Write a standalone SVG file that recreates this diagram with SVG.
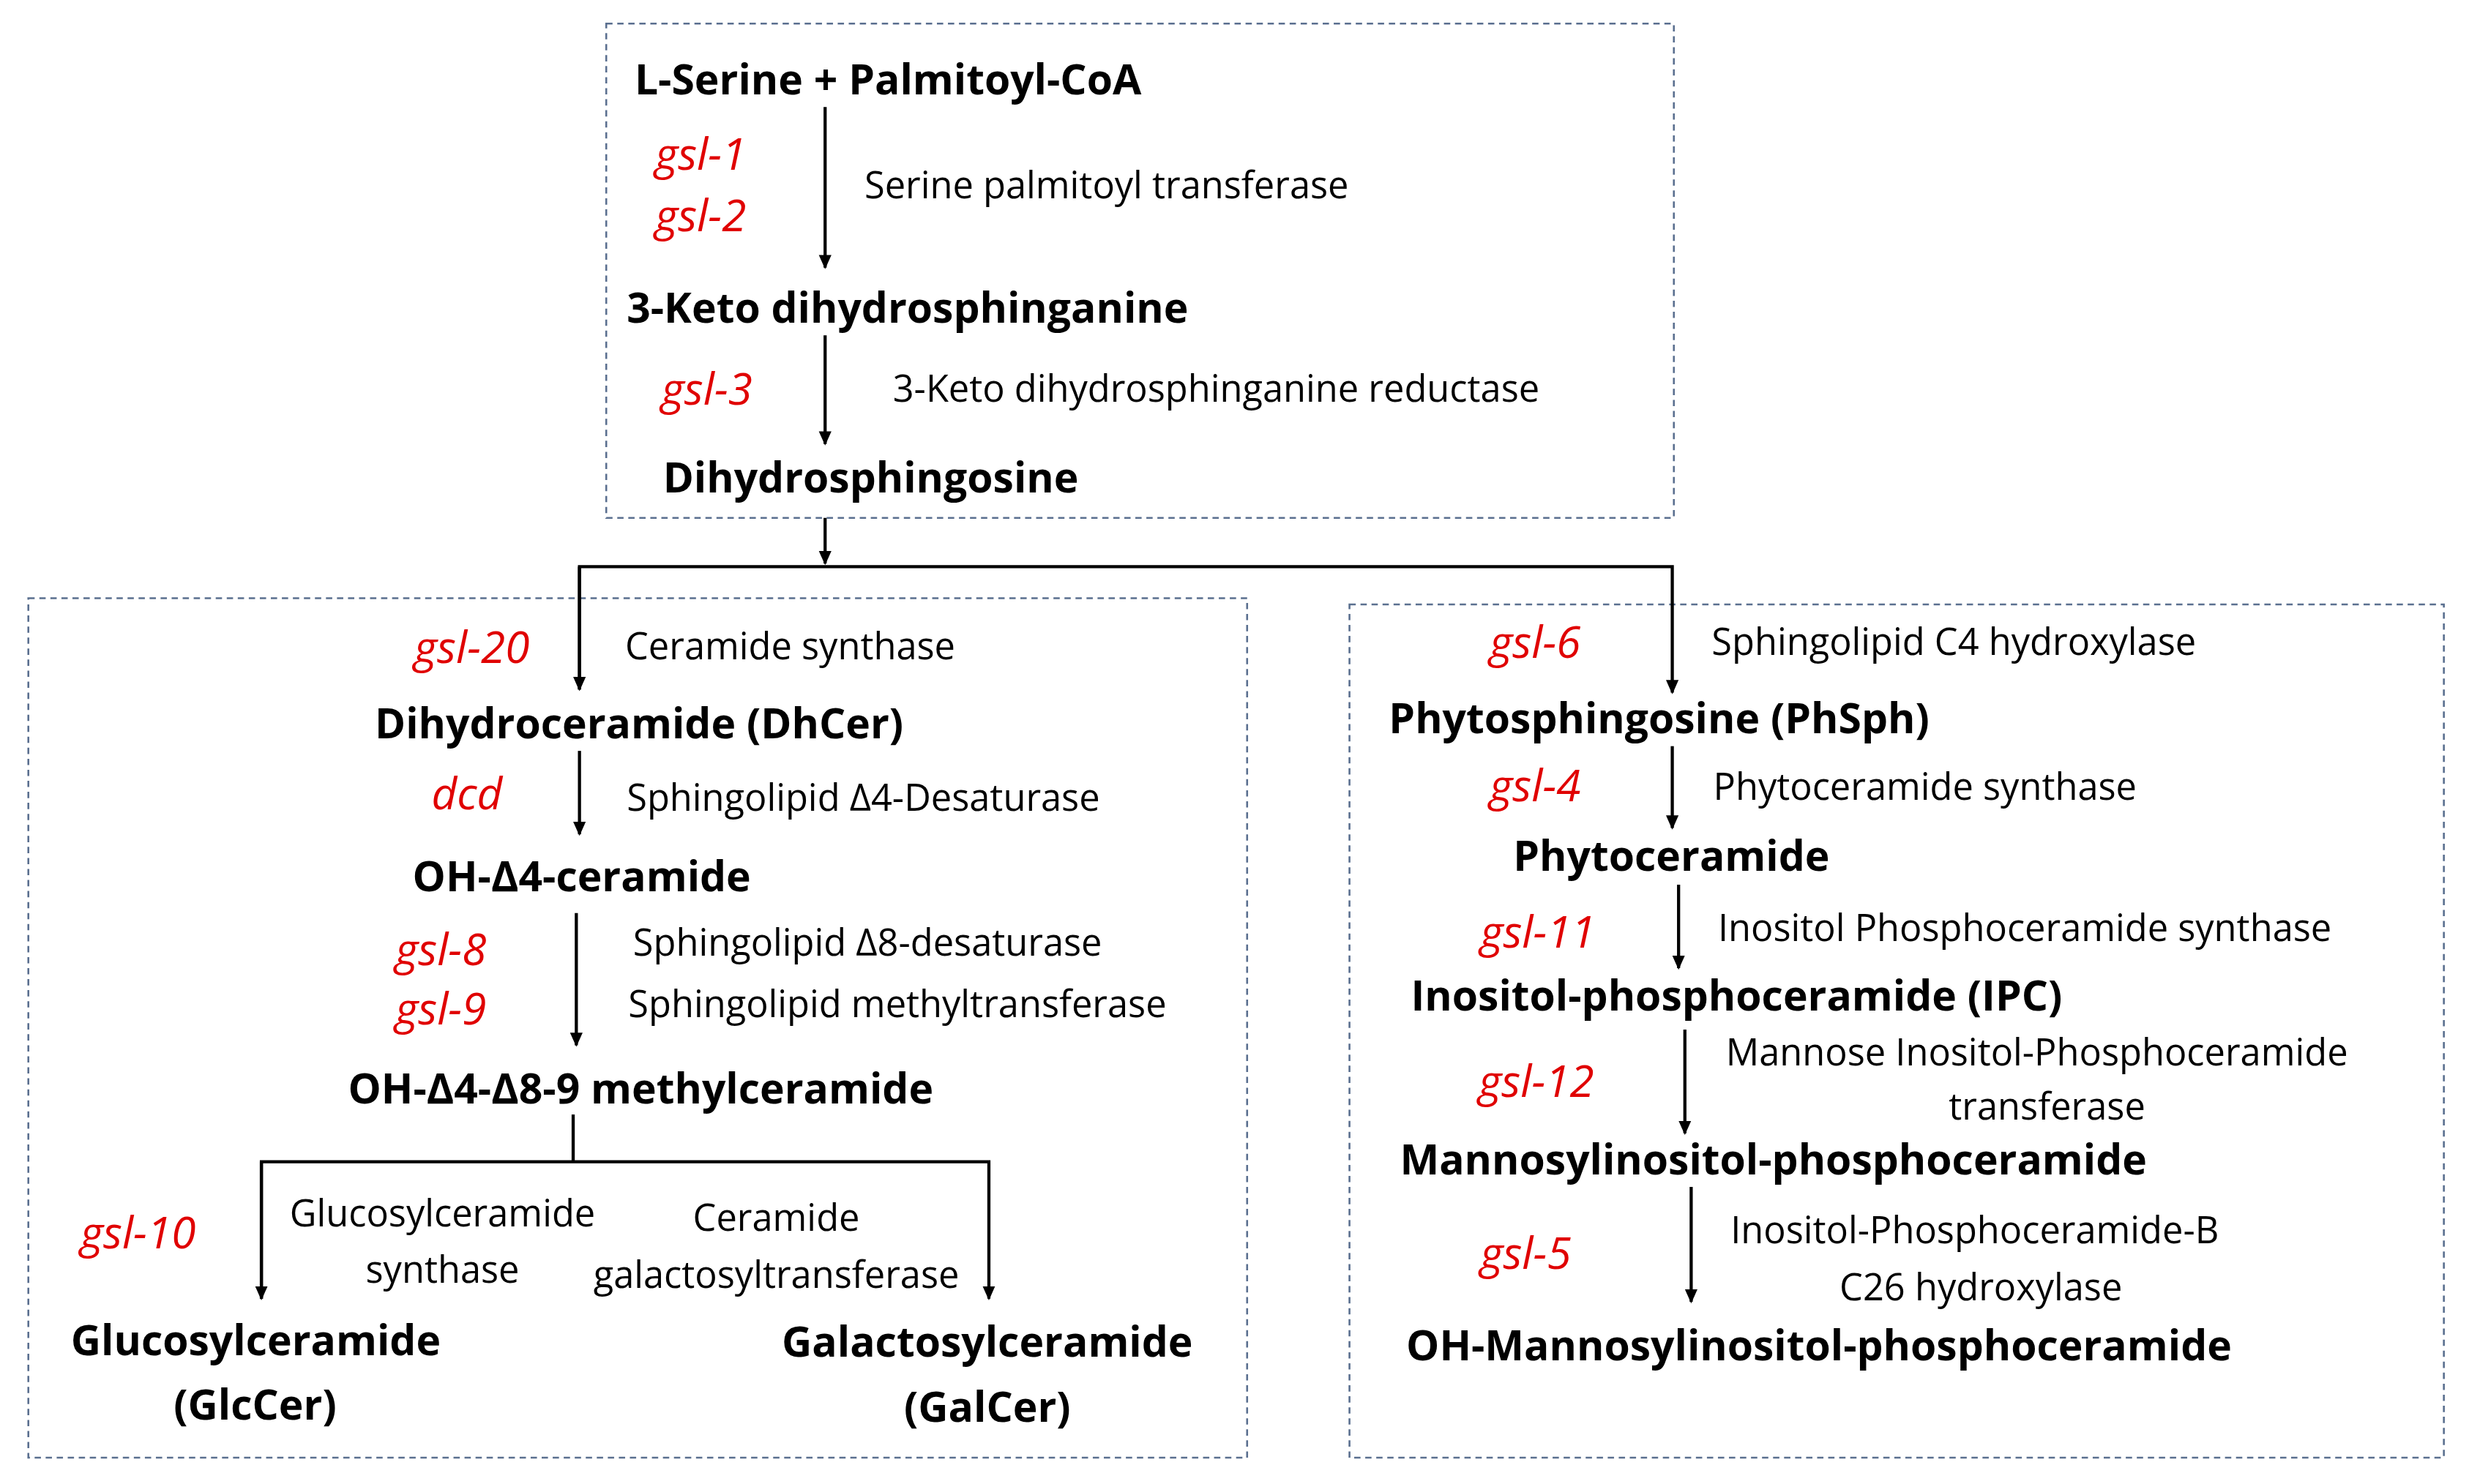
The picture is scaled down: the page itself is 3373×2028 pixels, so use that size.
<svg xmlns="http://www.w3.org/2000/svg" width="3373" height="2028" viewBox="0 0 3373 2028">
<defs>
<marker id="ah" markerWidth="10" markerHeight="10" refX="8" refY="5" orient="auto" markerUnits="userSpaceOnUse"><path d="M0,1 L9,5 L0,9 z" fill="#000"/></marker>
<style>
.box{fill:none;stroke:#5a6f8f;stroke-width:1.2;stroke-dasharray:4,3}
.b{font-family:"Open Sans","Liberation Sans",sans-serif;font-weight:bold;font-size:26.5px;fill:#000}
.n{font-family:"Open Sans","Liberation Sans",sans-serif;font-size:23.5px;fill:#000}
.g{font-family:"Open Sans","Liberation Sans",sans-serif;font-style:italic;font-size:28px;fill:#e00000}
.c{text-anchor:middle}
.l{fill:none;stroke:#000;stroke-width:2}
</style>
</defs>
<rect width="3373" height="2028" fill="#fff"/>
<g transform="scale(2.1512)">
<g id="boxes">
<rect class="box" x="385" y="15" width="678" height="314"/>
<rect class="box" x="18" y="380" width="774" height="546"/>
<rect class="box" x="857" y="384" width="695" height="542"/>
</g>
<g id="connectors">
<line class="l" x1="524" y1="68" x2="524" y2="170" marker-end="url(#ah)"/>
<line class="l" x1="524" y1="213" x2="524" y2="282" marker-end="url(#ah)"/>
<line class="l" x1="524" y1="329" x2="524" y2="358" marker-end="url(#ah)"/>
<polyline class="l" points="368,438 368,360 1062,360 1062,440" marker-end="url(#ah)"/>
<line class="l" x1="368" y1="360" x2="368" y2="438" marker-end="url(#ah)"/>
<line class="l" x1="368" y1="477" x2="368" y2="530" marker-end="url(#ah)"/>
<line class="l" x1="366" y1="580" x2="366" y2="664" marker-end="url(#ah)"/>
<line class="l" x1="364" y1="708" x2="364" y2="738"/>
<polyline class="l" points="166,825 166,738 628,738 628,825" marker-end="url(#ah)"/>
<line class="l" x1="166" y1="738" x2="166" y2="825" marker-end="url(#ah)"/>
<line class="l" x1="1062" y1="474" x2="1062" y2="526" marker-end="url(#ah)"/>
<line class="l" x1="1066" y1="562" x2="1066" y2="615" marker-end="url(#ah)"/>
<line class="l" x1="1070" y1="654" x2="1070" y2="720" marker-end="url(#ah)"/>
<line class="l" x1="1074" y1="754" x2="1074" y2="827" marker-end="url(#ah)"/>
</g>
<g id="top">
<text class="b" x="403" y="60">L-Serine + Palmitoyl-CoA</text>
<text class="g" x="416" y="108">gsl-1</text>
<text class="g" x="416" y="147">gsl-2</text>
<text class="n" x="549" y="126">Serine palmitoyl transferase</text>
<text class="b" x="398" y="205">3-Keto dihydrosphinganine</text>
<text class="g" x="420" y="257">gsl-3</text>
<text class="n" x="567" y="255">3-Keto dihydrosphinganine reductase</text>
<text class="b" x="421" y="313">Dihydrosphingosine</text>
</g>
<g id="left">
<text class="g" x="263" y="421">gsl-20</text>
<text class="n" x="397" y="419">Ceramide synthase</text>
<text class="b" x="238" y="469">Dihydroceramide (DhCer)</text>
<text class="g" x="274" y="514">dcd</text>
<text class="n" x="398" y="515">Sphingolipid Δ4-Desaturase</text>
<text class="b" x="262" y="566">OH-Δ4-ceramide</text>
<text class="g" x="251" y="613">gsl-8</text>
<text class="g" x="251" y="651">gsl-9</text>
<text class="n" x="402" y="607">Sphingolipid Δ8-desaturase</text>
<text class="n" x="399" y="646">Sphingolipid methyltransferase</text>
<text class="b" x="221" y="701">OH-Δ4-Δ8-9 methylceramide</text>
<text class="g" x="51" y="793">gsl-10</text>
<text class="n c" x="281" y="779">Glucosylceramide</text>
<text class="n c" x="281" y="815">synthase</text>
<text class="n c" x="493" y="782">Ceramide</text>
<text class="n c" x="493" y="818">galactosyltransferase</text>
<text class="b" x="45" y="861">Glucosylceramide</text>
<text class="b c" x="162" y="902">(GlcCer)</text>
<text class="b c" x="627" y="862">Galactosylceramide</text>
<text class="b c" x="627" y="903">(GalCer)</text>
</g>
<g id="right">
<text class="g" x="946" y="418">gsl-6</text>
<text class="n" x="1087" y="416">Sphingolipid C4 hydroxylase</text>
<text class="b" x="882" y="466">Phytosphingosine (PhSph)</text>
<text class="g" x="946" y="509">gsl-4</text>
<text class="n" x="1088" y="508">Phytoceramide synthase</text>
<text class="b" x="961" y="553">Phytoceramide</text>
<text class="g" x="940" y="602">gsl-11</text>
<text class="n" x="1091" y="598">Inositol Phosphoceramide synthase</text>
<text class="b" x="896" y="642">Inositol-phosphoceramide (IPC)</text>
<text class="g" x="939" y="697">gsl-12</text>
<text class="n" x="1096" y="677">Mannose Inositol-Phosphoceramide</text>
<text class="n c" x="1300" y="711">transferase</text>
<text class="b" x="889" y="746">Mannosylinositol-phosphoceramide</text>
<text class="g" x="940" y="806">gsl-5</text>
<text class="n" x="1099" y="790">Inositol-Phosphoceramide-B</text>
<text class="n c" x="1258" y="826">C26 hydroxylase</text>
<text class="b" x="893" y="864">OH-Mannosylinositol-phosphoceramide</text>
</g>
</g>
</svg>
